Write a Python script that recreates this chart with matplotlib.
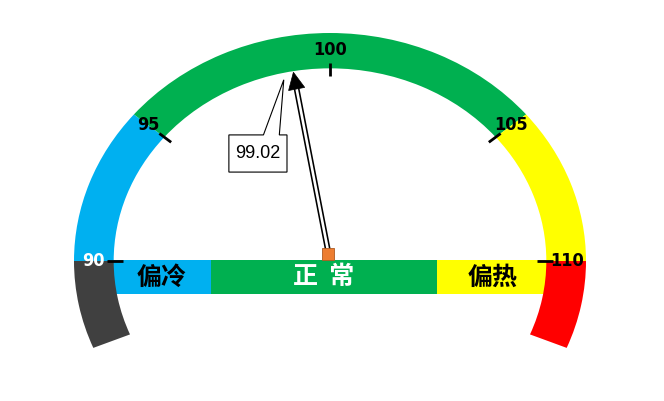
import numpy as np
import matplotlib
matplotlib.use('Agg')
import matplotlib.pyplot as plt
from matplotlib.patches import Wedge, Rectangle, Polygon

# gauge data
tick_values = [90, 95, 100, 105, 110]
tick_labels = ['90', '95', '100', '105', '110']
zone_edges = [87.2, 90, 95, 105, 110, 112.8]
zone_colors = ['#404040', '#00B0F0', '#00B050', '#FFFF00', '#FF0000']
band_labels = ['偏冷', '正  常', '偏热']
band_colors = ['#00B0F0', '#00B050', '#FFFF00']
band_text_colors = ['black', 'white', 'black']
value = 99.02

# layout (normalised: x by 256px, y by 228px, centre of gauge at origin)
tick_angles = [180, 140, 90, 40, 0]
band_edges = [-0.852, -0.465, 0.418, 0.852]
r_out, r_in = 1.0, 0.845


def val2ang(v):
    if v < tick_values[0]:
        return tick_angles[0] + (tick_values[0] - v) * 8
    if v > tick_values[-1]:
        return tick_angles[-1] - (v - tick_values[-1]) * 8
    return np.interp(v, tick_values, tick_angles)


def pol(r, ang):
    a = np.deg2rad(ang)
    return r * np.cos(a), r * np.sin(a)


fig = plt.figure(figsize=(6.64, 4.01), dpi=100)
ax = fig.add_axes([0, 0, 1, 1])
ax.set_xlim(-330 / 256, (664 - 330) / 256)
ax.set_ylim((261 - 401) / 228, 261 / 228)
ax.axis('off')

# horizontal band
for i in range(3):
    ax.add_patch(Rectangle((band_edges[i], -0.145), band_edges[i + 1] - band_edges[i], 0.149,
                           facecolor=band_colors[i], lw=0, zorder=1))
    cx = (band_edges[i] + band_edges[i + 1]) / 2
    ax.text(cx, -0.072, band_labels[i], ha='center', va='center', fontsize=18, fontweight='bold',
            color=band_text_colors[i], family=['Noto Sans CJK SC', 'DejaVu Sans'], zorder=3)

# arc zones
for i in range(len(zone_colors)):
    a1 = val2ang(zone_edges[i + 1])
    a2 = val2ang(zone_edges[i])
    ax.add_patch(Wedge((0, 0), r_out, a1, a2, width=r_out - r_in, facecolor=zone_colors[i],
                       lw=0, zorder=2))

# ticks and labels
for v, lab in zip(tick_values, tick_labels):
    a = val2ang(v)
    x1, y1 = pol(0.81, a)
    x2, y2 = pol(0.87, a)
    ax.plot([x1, x2], [y1, y2], color='black', lw=2, solid_capstyle='butt', zorder=3)
    lx, ly = pol(0.925, a)
    ax.text(lx, ly, lab, ha='center', va='center', fontsize=13, fontweight='bold',
            family='DejaVu Sans', fontstretch='condensed',
            color='white' if v == tick_values[0] else 'black', zorder=3)

# needle
na = val2ang(value)
base = np.array(pol(0.035, na))
tip = np.array(pol(0.84, na))
T = ax.transData
pb, pt = T.transform(base), T.transform(tip)
u = (pt - pb) / np.linalg.norm(pt - pb)
n = np.array([-u[1], u[0]])
shaft_end = T.inverted().transform(pt - 15 * u)
ax.plot([base[0], shaft_end[0]], [base[1], shaft_end[1]], color='black', lw=4.2,
        solid_capstyle='butt', zorder=4)
ax.plot([base[0], shaft_end[0]], [base[1], shaft_end[1]], color='white', lw=1.9,
        solid_capstyle='butt', zorder=4)
head = T.inverted().transform(np.array([pt, pt - 17 * u + 8.2 * n, pt - 17 * u - 8.2 * n]))
ax.add_patch(Polygon(head, closed=True, facecolor='black', edgecolor='black', lw=0.5, zorder=5))
ax.plot(base[0], base[1] - 0.005, marker='s', markersize=8, color='#ED7D31',
        markeredgecolor='#AE5A21', markeredgewidth=0.6, zorder=5)

# callout
bx0, bx1, by0, by1 = -0.395, -0.168, 0.390, 0.553
ctip = pol(0.815, na + 3)
callout = [(bx0, by1), (-0.260, by1), ctip, (-0.198, by1), (bx1, by1), (bx1, by0), (bx0, by0)]
ax.add_patch(Polygon(callout, closed=True, facecolor='white', edgecolor='black', lw=0.8, zorder=6))
ax.text((bx0 + bx1) / 2, (by0 + by1) / 2, f'{value:.2f}', ha='center', va='center',
        fontsize=13, family='Liberation Sans', zorder=7)

fig.savefig('out.png', dpi=100)
